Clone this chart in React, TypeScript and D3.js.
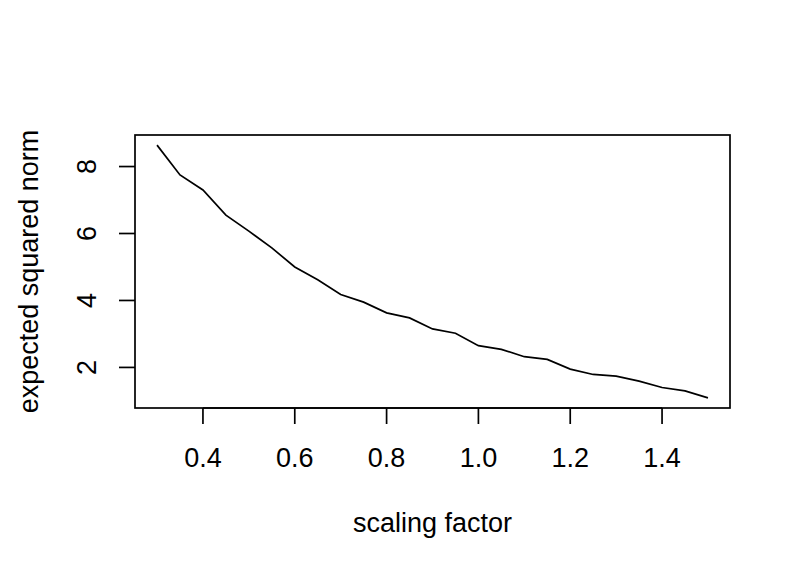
import React from "react";
import * as d3 from "d3";

const scalingFactor = [0.3, 0.35, 0.4, 0.45, 0.5, 0.55, 0.6, 0.65, 0.7, 0.75, 0.8, 0.85, 0.9, 0.95, 1.0, 1.05, 1.1, 1.15, 1.2, 1.25, 1.3, 1.35, 1.4, 1.45, 1.5];
const expectedSquaredNorm = [8.64, 7.75, 7.3, 6.55, 6.07, 5.57, 5.0, 4.62, 4.18, 3.95, 3.63, 3.48, 3.15, 3.02, 2.65, 2.54, 2.32, 2.24, 1.95, 1.79, 1.74, 1.59, 1.4, 1.3, 1.09];
const xTicks = [0.4, 0.6, 0.8, 1.0, 1.2, 1.4];
const yTicks = [2, 4, 6, 8];
const xLabel = "scaling factor";
const yLabel = "expected squared norm";

const W = 797;
const H = 576;
const box = { left: 135, right: 730, top: 135, bottom: 408 };
const FONT = "'Liberation Sans', Arial, Helvetica, sans-serif";
const FS = 27;

function padded(ext: [number, number]): [number, number] {
  const r = ext[1] - ext[0];
  return [ext[0] - 0.04 * r, ext[1] + 0.04 * r];
}

export default function App() {
  const x = d3.scaleLinear().domain(padded(d3.extent(scalingFactor) as [number, number])).range([box.left, box.right]);
  const y = d3.scaleLinear().domain(padded(d3.extent(expectedSquaredNorm) as [number, number])).range([box.bottom, box.top]);
  const pts: [number, number][] = scalingFactor.map((v, i) => [v, expectedSquaredNorm[i]]);
  const line = d3.line<[number, number]>().x((d) => x(d[0])).y((d) => y(d[1]));
  const tick = 16;
  const sw = 1.7;

  return (
    <svg width={W} height={H} style={{ position: "absolute", left: 0, top: 0, background: "#fff" }} fontFamily={FONT}>
      <rect x={0} y={0} width={W} height={H} fill="#fff" />
      <path d={line(pts) || ""} fill="none" stroke="#000" strokeWidth={sw} />
      <rect x={box.left} y={box.top} width={box.right - box.left} height={box.bottom - box.top} fill="none" stroke="#000" strokeWidth={sw} />
      {/* x axis */}
      <line x1={x(xTicks[0])} x2={x(xTicks[xTicks.length - 1])} y1={box.bottom} y2={box.bottom} stroke="#000" strokeWidth={sw} />
      {xTicks.map((t) => (
        <g key={"x" + t}>
          <line x1={x(t)} x2={x(t)} y1={box.bottom} y2={box.bottom + tick} stroke="#000" strokeWidth={sw} />
          <text x={x(t)} y={467} fontSize={FS} textAnchor="middle" fill="#000">{t.toFixed(1)}</text>
        </g>
      ))}
      {/* y axis */}
      {yTicks.map((t) => (
        <g key={"y" + t}>
          <line x1={box.left - tick} x2={box.left} y1={y(t)} y2={y(t)} stroke="#000" strokeWidth={sw} />
          <text transform={`translate(96,${y(t)}) rotate(-90)`} fontSize={FS} textAnchor="middle" fill="#000">{String(t)}</text>
        </g>
      ))}
      <text x={(box.left + box.right) / 2} y={532} fontSize={FS} textAnchor="middle" fill="#000">{xLabel}</text>
      <text transform={`translate(38,${(box.top + box.bottom) / 2}) rotate(-90)`} fontSize={FS} textAnchor="middle" fill="#000">{yLabel}</text>
    </svg>
  );
}
